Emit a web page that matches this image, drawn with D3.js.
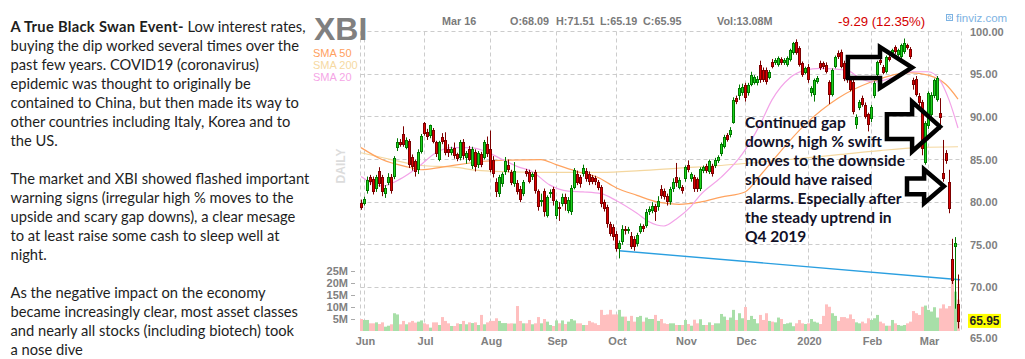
<!DOCTYPE html>
<html><head><meta charset="utf-8">
<script src="https://cdn.jsdelivr.net/npm/d3@7"></script>
<style>html,body{margin:0;padding:0;background:#fff}svg{display:block}</style>
</head><body>
<svg id="c" width="1025" height="359"></svg>
<script>
// ---------------- DATA ----------------
const opens  = [79.95,79.75,81.3,82.9,82.7,81.5,83.7,82.9,80.9,82.2,83.0,82.9,86.3,87.1,88.0,86.4,87.2,85.3,84.8,83.8,85.9,89.3,88.2,87.8,88.5,87.0,85.0,87.6,87.3,86.2,85.8,86.3,85.6,85.2,87.0,85.2,86.2,84.2,85.9,84.4,85.6,85.2,86.8,86.2,85.0,82.4,80.9,82.1,83.5,84.4,83.5,82.1,82.3,81.6,80.9,83.6,83.5,82.9,83.5,81.3,80.0,81.3,78.4,80.9,81.5,78.4,79.4,79.8,80.6,79.0,78.8,81.7,83.3,82.9,83.3,83.6,83.3,82.9,82.8,82.4,81.8,80.0,79.4,77.4,77.1,76.3,74.5,75.3,76.9,76.6,76.0,75.7,75.1,76.5,77.2,77.2,78.8,79.0,79.6,79.4,81.6,81.3,80.7,80.0,81.5,82.9,81.7,81.8,82.7,84.4,82.7,83.0,82.7,81.5,83.7,84.2,83.5,84.2,84.2,84.8,85.6,86.5,87.9,87.9,89.3,92.2,92.4,92.8,93.8,92.8,93.8,94.0,94.0,96.1,95.5,95.5,94.6,96.5,96.3,96.1,96.8,96.3,96.1,96.7,97.5,98.8,98.1,96.3,95.2,95.9,92.8,92.6,94.1,96.3,96.3,96.1,94.1,92.6,95.9,97.5,97.6,96.3,94.9,94.3,94.1,89.1,91.1,92.2,91.4,90.3,89.7,92.4,94.9,96.7,95.9,95.3,97.0,97.5,98.2,97.3,97.0,97.6,98.4,98.0,94.3,94.5,92.4,91.8,84.6,88.9,90.2,92.4,92.0,90.5,83.4,85.8,82.4,73.3,74.7,68.09];
const highs  = [80.3,80.65,83.0,83.2,83.0,83.2,84.1,83.2,82.0,83.4,83.3,85.4,87.5,87.4,88.9,87.6,87.4,85.6,85.0,86.2,88.0,89.4,88.6,89.1,88.7,87.2,87.2,88.1,88.2,86.8,86.5,87.0,85.8,87.3,87.4,86.0,86.6,86.5,86.2,86.0,85.9,87.3,87.7,88.4,85.4,82.8,83.2,83.5,85.3,85.0,83.8,84.7,82.6,81.9,82.6,83.9,83.8,83.5,83.8,81.5,81.0,81.6,80.8,81.5,81.8,80.3,80.0,81.0,81.0,80.6,82.0,84.0,83.7,83.2,84.4,84.0,83.6,83.2,83.1,82.6,82.0,80.3,79.7,77.7,77.4,76.6,75.5,77.3,77.2,77.1,76.5,76.0,76.4,77.5,77.4,79.2,79.5,80.0,79.8,80.7,82.0,81.6,81.0,81.8,82.8,84.6,82.9,82.0,84.3,84.9,83.5,83.2,82.9,84.1,84.3,84.5,85.0,84.5,85.2,85.5,87.0,87.9,88.1,88.8,92.3,92.5,93.8,93.9,94.0,94.0,95.3,94.9,94.8,96.6,95.8,95.8,95.5,96.8,96.9,97.1,97.0,96.9,97.1,98.0,98.8,99.1,98.3,96.5,95.9,96.2,93.6,94.5,94.8,96.6,96.5,96.4,94.3,95.7,97.2,97.8,97.9,96.6,95.1,94.6,94.4,90.3,92.0,92.5,91.7,90.5,91.4,94.2,96.6,97.0,96.1,97.2,97.3,98.0,98.4,98.0,98.6,99.2,98.6,98.2,94.6,94.8,92.8,92.0,89.5,93.0,92.9,94.5,94.8,92.2,87.3,86.1,83.8,75.7,75.9,71.51];
const lows   = [79.1,79.6,81.0,82.0,80.9,81.2,81.8,80.7,80.5,82.0,81.0,82.7,86.0,86.5,86.5,86.2,84.0,83.7,83.0,83.3,85.7,87.8,87.3,87.5,86.9,85.3,84.8,86.8,85.5,85.3,85.5,85.1,84.8,84.9,85.0,84.5,84.8,83.9,83.6,84.0,84.1,85.0,85.3,83.5,82.9,80.6,80.6,81.8,83.2,83.5,82.0,81.8,80.9,80.0,80.7,83.0,82.2,82.6,81.0,79.0,79.5,78.3,78.2,80.5,79.6,78.0,77.8,79.5,79.0,78.7,78.5,81.5,82.0,81.7,83.0,82.4,82.0,82.1,82.0,81.4,79.4,78.9,77.0,76.0,75.5,74.2,73.4,75.0,76.2,76.3,74.5,74.3,74.8,76.3,76.5,77.0,78.5,78.7,77.8,79.0,80.4,80.3,79.6,79.7,81.2,81.8,81.5,81.0,82.4,83.5,82.4,81.2,81.2,81.3,83.4,83.4,83.3,83.0,84.0,84.6,85.4,86.3,87.1,87.6,89.2,91.5,92.0,92.5,91.8,92.5,93.6,93.8,93.7,94.0,94.1,93.8,94.4,95.7,96.1,95.9,96.1,96.1,95.9,96.5,97.3,97.3,95.9,94.7,95.0,94.0,92.4,91.8,93.9,95.5,95.6,95.1,91.5,92.4,95.7,96.8,95.7,94.2,94.0,93.0,90.3,88.6,90.8,91.2,89.8,88.3,89.4,92.2,94.7,96.1,95.0,95.1,96.5,97.3,97.4,97.1,96.8,97.4,97.9,96.8,93.2,92.4,91.3,85.5,84.4,88.6,89.8,92.2,91.8,88.5,82.4,84.5,78.7,70.4,67.5,65.19];
const closes = [79.3,80.4,82.6,82.4,81.2,82.9,82.1,81.2,81.7,83.0,81.3,85.2,87.0,86.7,86.7,87.3,84.4,84.1,83.5,85.9,87.8,88.0,87.6,89.0,87.0,85.6,87.0,87.0,85.8,85.8,86.2,85.4,85.1,87.0,85.4,85.8,85.0,86.2,84.1,85.8,84.4,87.0,85.6,83.8,83.3,81.2,83.0,83.3,84.8,83.8,82.3,83.6,81.2,80.2,82.4,83.3,82.4,83.3,81.3,79.4,80.3,78.8,80.6,81.2,80.1,80.1,79.2,80.6,79.8,80.3,81.7,83.8,82.3,82.1,84.0,82.7,82.4,82.4,82.4,81.7,79.8,79.2,77.4,76.3,75.9,74.5,75.2,76.8,76.6,76.9,74.7,74.7,76.1,77.2,76.8,78.9,79.2,79.6,78.8,80.1,80.7,80.6,80.0,81.5,82.4,82.3,82.6,81.3,84.1,83.8,83.3,81.5,81.5,83.9,84.1,83.6,84.8,83.3,85.0,85.3,86.8,87.7,87.3,88.5,92.0,91.8,93.4,93.5,92.2,93.8,94.9,94.7,94.5,94.3,94.3,94.1,95.3,95.9,96.7,96.9,96.3,96.7,96.9,97.8,98.7,97.5,96.1,94.9,95.7,94.3,93.4,94.3,94.6,95.7,95.8,95.3,92.6,95.5,97.0,97.0,95.9,94.4,94.3,93.2,90.6,90.0,91.8,91.4,90.0,89.1,91.2,94.0,96.4,96.3,95.2,97.0,96.7,97.8,97.6,97.8,98.4,98.7,98.1,97.0,93.8,92.6,91.6,86.2,89.3,92.8,92.6,94.3,94.6,89.9,82.7,84.8,79.2,70.8,75.24,65.95];
const volumesM = [5.0,4.6,4.6,3.2,3.2,3.6,2.9,3.6,1.8,2.2,2.8,7.4,6.9,2.8,4.2,2.8,3.6,4.2,3.5,3.9,4.4,3.2,2.8,1.4,3.6,3.6,2.5,5.8,4.2,3.2,2.1,2.1,3.2,2.9,4.2,2.8,3.6,3.3,3.6,2.5,6.7,2.8,3.6,4.2,4.2,5.3,4.2,3.3,3.3,3.1,3.2,3.1,10.4,4.2,3.2,3.2,4.6,2.8,3.2,5.8,3.2,5.0,3.9,2.5,2.1,4.4,3.2,4.4,2.9,3.9,5.0,4.4,3.2,3.2,2.5,2.5,4.2,3.6,3.2,2.5,8.8,6.7,6.9,8.8,6.9,6.9,8.8,6.0,6.0,4.2,6.3,3.9,5.8,6.3,3.9,5.6,5.0,5.0,6.7,4.2,5.0,3.2,2.9,3.2,3.2,2.5,2.5,2.5,4.6,2.9,2.2,4.7,3.2,4.9,2.5,2.5,3.6,2.5,3.2,3.2,7.1,6.0,4.6,5.6,8.8,4.6,7.4,5.3,10.0,4.6,6.3,5.0,3.2,6.7,4.6,7.4,4.2,3.9,3.6,5.6,5.0,2.9,3.2,3.5,2.0,3.2,4.6,3.2,2.9,3.2,5.0,3.9,3.5,2.9,6.3,11.1,10.1,7.4,6.3,4.2,5.8,5.8,5.3,6.9,5.0,3.6,3.2,3.9,3.2,5.3,4.6,5.3,6.7,3.9,3.2,2.2,2.2,4.6,3.2,2.5,2.2,2.5,3.2,3.9,8.3,7.4,6.7,10.1,10.6,8.8,8.1,9.9,5.6,9.4,11.1,9.4,10.4,22.6,16.4,13.08];

// month ticks: label + trading-day index of the first session of that month
const monthLabels = ["Jun","Jul","Aug","Sep","Oct","Nov","Dec","2020","Feb","Mar"];
const monthStarts = [1,21,43,65,85,108,128,149,170,189];
const priceTicks  = [100,95,90,85,80,75,70,65];
const volumeTicks = [5,10,15,20,25];

// moving averages: [day index, price]
const sma50  = [[0,86.4],[7,85.0],[16,84.1],[20,83.8],[27,84.1],[41,84.8],[46,84.9],[60,85.0],[65,84.4],[72,83.6],[79,82.9],[85,81.7],[92,80.8],[99,80.0],[106,79.75],[113,80.0],[120,80.6],[128,81.2],[133,83.1],[138,85.2],[148,89.1],[159,92.2],[170,94.1],[183,95.2],[189,94.9],[195,93.8],[199,92.1]];
const sma200 = [[0,85.8],[10,85.0],[20,84.3],[31,84.1],[40,83.7],[58,83.5],[80,83.5],[93,83.7],[106,84.0],[120,84.3],[133,84.7],[146,85.1],[160,85.6],[173,86.05],[186,86.4],[199,86.5]];
const sma20  = [[0,83.0],[7,81.9],[13,82.7],[19,84.1],[25,85.8],[30,86.4],[36,86.4],[42,85.9],[46,85.2],[52,84.2],[57,83.6],[63,82.0],[69,81.3],[74,81.2],[80,81.0],[85,80.2],[92,78.7],[96,77.7],[101,77.2],[105,78.0],[110,79.5],[113,80.8],[120,82.9],[127,85.6],[133,89.1],[137,92.0],[143,94.6],[148,95.5],[153,95.7],[162,95.5],[166,94.6],[171,94.1],[177,94.6],[184,95.3],[189,95.3],[193,94.3],[196,92.0],[199,88.7]];
const trendline = [[86,74.3],[199.7,70.9]];

// annotation arrows in data units: start day, head-base day, tip day, centre price, half body height, half head height
const arrowNotes = [
  [162.3,173,183.7,95.8,1.23,2.4],
  [175.3,183.7,193,88.86,1.46,2.92],
  [182,187.7,194.3,81.86,0.93,1.98]
];

const headerItems = [["Mar 16",442],["O:68.09",510],["H:71.51",556],["L:65.19",600],["C:65.95",643],["Vol:13.08M",717]];
const changeText = "-9.29 (12.35%)";
const lastPrice = 65.95;

const leftLines = [
  [["A True Black Swan Event-",true],[" Low interest rates,",false]],
  [["buying the dip worked several times over the",false]],
  [["past few years. COVID19 (coronavirus)",false]],
  [["epidemic was thought to originally be",false]],
  [["contained to China, but then made its way to",false]],
  [["other countries including Italy, Korea and to",false]],
  [["the US.",false]],
  null,
  [["The market and XBI showed flashed important",false]],
  [["warning signs (irregular high % moves to the",false]],
  [["upside and scary gap downs), a clear mesage",false]],
  [["to at least raise some cash to sleep well at",false]],
  [["night.",false]],
  null,
  [["As the negative impact on the economy",false]],
  [["became increasingly clear, most asset classes",false]],
  [["and nearly all stocks (including biotech) took",false]],
  [["a nose dive",false]]
];
const noteLines = ["Continued gap","downs, high % swift","moves to the downside","should have raised","alarms. Especially after","the steady uptrend in","Q4 2019"];

// ---------------- DRAWING ----------------
const FONT = "'Liberation Sans', Arial, sans-serif";
const svg = d3.select("#c");
const xScale = d3.scaleLinear().domain([0,199]).range([361,958]);
const yScale = d3.scaleLinear().domain([65,100]).range([330,31.7]);
const vScale = d3.scaleLinear().domain([0,25]).range([331,271]);

// left paragraph
const lp = svg.append("g").attr("font-family","Lato, 'Open Sans', sans-serif").attr("font-size",14.7).attr("fill","#1e1e1e");
let ly = 32;
leftLines.forEach(line => {
  if (line) {
    const t = lp.append("text").attr("x",10.5).attr("y",ly);
    line.forEach(([s,b]) => t.append("tspan").attr("font-weight", b ? 700 : 400)
      .attr("letter-spacing", b ? 0.3 : null).text(s));
  }
  ly += 19;
});

// gridlines
const grid = svg.append("g").attr("stroke","#cccccc").attr("stroke-dasharray","4,3").attr("fill","none");
priceTicks.filter(v => v > 65).forEach(v => {
  const yy = Math.floor(yScale(v)) + 0.5;
  grid.append("line").attr("x1",360.5).attr("x2",961.5).attr("y1",yy).attr("y2",yy);
});
[360.5, 961.5].concat(monthStarts.map(k => xScale(k) + 0.5)).forEach(xx => {
  grid.append("line").attr("x1",xx).attr("x2",xx).attr("y1",31.5).attr("y2",331);
});

// volume bars
const idx = d3.range(closes.length);
svg.append("g").selectAll("rect").data(idx).join("rect")
  .attr("x", i => xScale(i) - 1).attr("width", 3)
  .attr("y", i => vScale(volumesM[i])).attr("height", i => vScale(0) - vScale(volumesM[i]))
  .attr("fill", i => closes[i] >= opens[i] ? "#a8dfa8" : "#ffbfbf");

// moving averages
const line = d3.line().x(d => xScale(d[0])).y(d => yScale(d[1])).curve(d3.curveMonotoneX);
[[sma200,"#f4d79f"],[sma50,"#ffa35f"],[sma20,"#f3a3e8"]].forEach(([d,c]) => {
  svg.append("path").attr("d", line(d)).attr("fill","none").attr("stroke",c).attr("stroke-width",1.2);
});

// trend line
svg.append("path").attr("d", d3.line().x(d => xScale(d[0])).y(d => yScale(d[1]))(trendline))
  .attr("stroke","#2a9fe0").attr("stroke-width",1.4).attr("fill","none");

// candles
const cg = svg.append("g");
idx.forEach(i => {
  const cx = Math.round(xScale(i));
  const upDay = closes[i] >= opens[i];
  const dark = upDay ? "#007800" : "#7c0000";
  const bright = upDay ? "#1ed21e" : "#dc0000";
  cg.append("line").attr("x1",cx+0.5).attr("x2",cx+0.5)
    .attr("y1",yScale(highs[i])).attr("y2",yScale(lows[i])).attr("stroke",dark);
  const yt = Math.round(yScale(Math.max(opens[i],closes[i])));
  const yb = Math.round(yScale(Math.min(opens[i],closes[i])));
  cg.append("rect").attr("x",cx-0.5).attr("y",yt+0.5).attr("width",2)
    .attr("height",Math.max(yb-yt-1,0.5)).attr("fill",bright).attr("stroke",dark);
});

// arrows
arrowNotes.forEach(([k0,k1,k2,v,bh,hh]) => {
  const pts = [[k0,v+bh],[k1,v+bh],[k1,v+hh],[k2,v],[k1,v-hh],[k1,v-bh],[k0,v-bh]]
    .map(([k,p]) => [xScale(k), yScale(p)]);
  svg.append("path").attr("d", d3.line()(pts) + "Z").attr("fill","none")
    .attr("stroke","#000").attr("stroke-width",4.5).attr("stroke-linejoin","miter");
});

// annotation text
const ng = svg.append("g").attr("font-family","Lato, 'Open Sans', sans-serif").attr("font-weight",700)
  .attr("font-size",15.5).attr("fill","#111128");
noteLines.forEach((s,i) => ng.append("text").attr("x",745).attr("y",128 + i*19).text(s));

// axes
const axisStyle = g => {
  g.select(".domain").remove();
  g.selectAll("text").attr("font-family",FONT).attr("font-weight",700).attr("font-size",11).attr("fill","#808080");
};
const priceAxis = svg.append("g").attr("transform","translate(966,0)")
  .call(d3.axisRight(yScale).tickValues(priceTicks).tickFormat(d3.format(".2f")).tickSize(0).tickPadding(4))
  .call(axisStyle);
// the lowest label sits just under the last-price tag
priceAxis.selectAll(".tick").filter(d => d === 65).select("text").attr("dy","1.05em");
svg.append("g").attr("transform","translate(1,331)")
  .call(d3.axisBottom(xScale).tickValues(monthStarts).tickFormat((d,i) => monthLabels[i]).tickSize(0).tickPadding(6))
  .call(axisStyle);
svg.append("g").attr("transform","translate(355,0)")
  .call(d3.axisLeft(vScale).tickValues(volumeTicks).tickFormat(d => d + "M").tickSize(4).tickPadding(3))
  .call(axisStyle)
  .call(g => g.selectAll("line").attr("stroke","#aaaaaa"));

// last price tag
const lyp = yScale(lastPrice);
svg.append("rect").attr("x",968).attr("y",lyp-8).attr("width",33).attr("height",14).attr("fill","#ffff00");
svg.append("text").attr("x",984.5).attr("y",lyp+3.5).attr("text-anchor","middle")
  .attr("font-family",FONT).attr("font-weight",700).attr("font-size",12).attr("fill","#222").text(lastPrice.toFixed(2));

// header
svg.append("text").attr("x",314).attr("y",40).attr("font-family",FONT).attr("font-weight",700)
  .attr("font-size",32).attr("fill","#808080").text("XBI");
[["SMA 50","#ffa060"],["SMA 200","#f6d9a2"],["SMA 20","#f5a6e6"]].forEach(([s,c],i) => {
  svg.append("text").attr("x",313).attr("y",57 + i*12).attr("font-family",FONT).attr("font-size",11).attr("fill",c).text(s);
});
headerItems.forEach(([s,x]) => svg.append("text").attr("x",x).attr("y",25).attr("font-family",FONT)
  .attr("font-weight",700).attr("font-size",10.8).attr("fill","#7a7a7a").text(s));
svg.append("text").attr("x",838).attr("y",26).attr("font-family",FONT).attr("font-size",13.2)
  .attr("fill","#d40000").text(changeText);
svg.append("rect").attr("x",946.5).attr("y",14.5).attr("width",6).attr("height",6).attr("fill","none").attr("stroke","#7db3e3");
svg.append("circle").attr("cx",949.5).attr("cy",17.5).attr("r",1.5).attr("fill","none").attr("stroke","#7db3e3");
svg.append("text").attr("x",956).attr("y",22).attr("font-family",FONT).attr("font-size",11.5)
  .attr("fill","#7db3e3").text("finviz.com");
svg.append("text").attr("transform","translate(345,166) rotate(-90)").attr("text-anchor","middle")
  .attr("font-family",FONT).attr("font-weight",700).attr("font-size",12).attr("fill","#dcdcdc").text("DAILY");
</script>
</body></html>
